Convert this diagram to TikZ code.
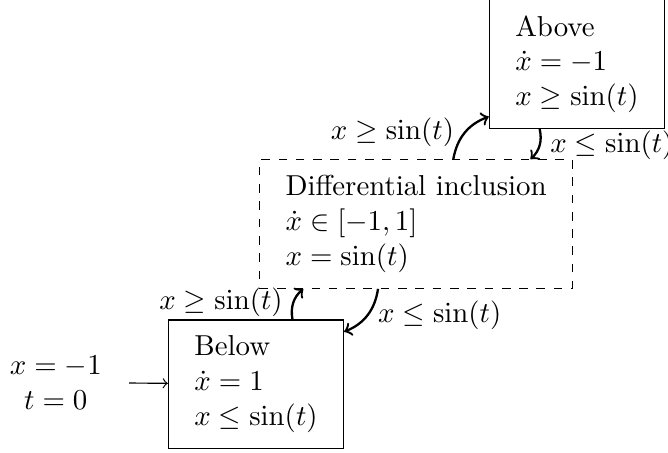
\documentclass[tikz,border=0pt]{standalone}

\begin{document}
\begin{tikzpicture}[
    mode/.style={draw,align=left,inner xsep=9pt,inner ysep=5.5pt},
    trans/.style={->,thick,bend left}
]
\useasboundingbox (0,0) rectangle (8.14,5.51);

\node[mode] (above) at (7.03,4.73) {Above\\$\dot{x}=-1$\\$x\geq\sin(t)$};
\node[mode,dashed] (incl) at (5.07,2.78) {Differential inclusion\\$\dot{x}\in[-1,1]$\\$x=\sin(t)$};
\node[mode] (below) at (3.12,0.83) {Below\\$\dot{x}=1$\\$x\leq\sin(t)$};
\node[align=center] (init) at (0.68,0.85) {$x=-1$\\$t=0$};

\draw[->,shorten <=6pt] (init)--(below);

\draw[trans] ([xshift=-0.63cm]below.north east) to node[left]{$x\geq\sin(t)$} ([xshift=0.54cm]incl.south west);
\draw[trans] ([xshift=1.45cm]incl.south west) to node[right]{$x\leq\sin(t)$} ([yshift=-0.15cm]below.north east);
\draw[trans] ([xshift=-1.46cm]incl.north east) to node[left]{$x\geq\sin(t)$} ([yshift=0.15cm]above.south west);
\draw[trans] ([xshift=0.62cm]above.south west) to node[right]{$x\leq\sin(t)$} ([xshift=-0.52cm]incl.north east);
\end{tikzpicture}
\end{document}
